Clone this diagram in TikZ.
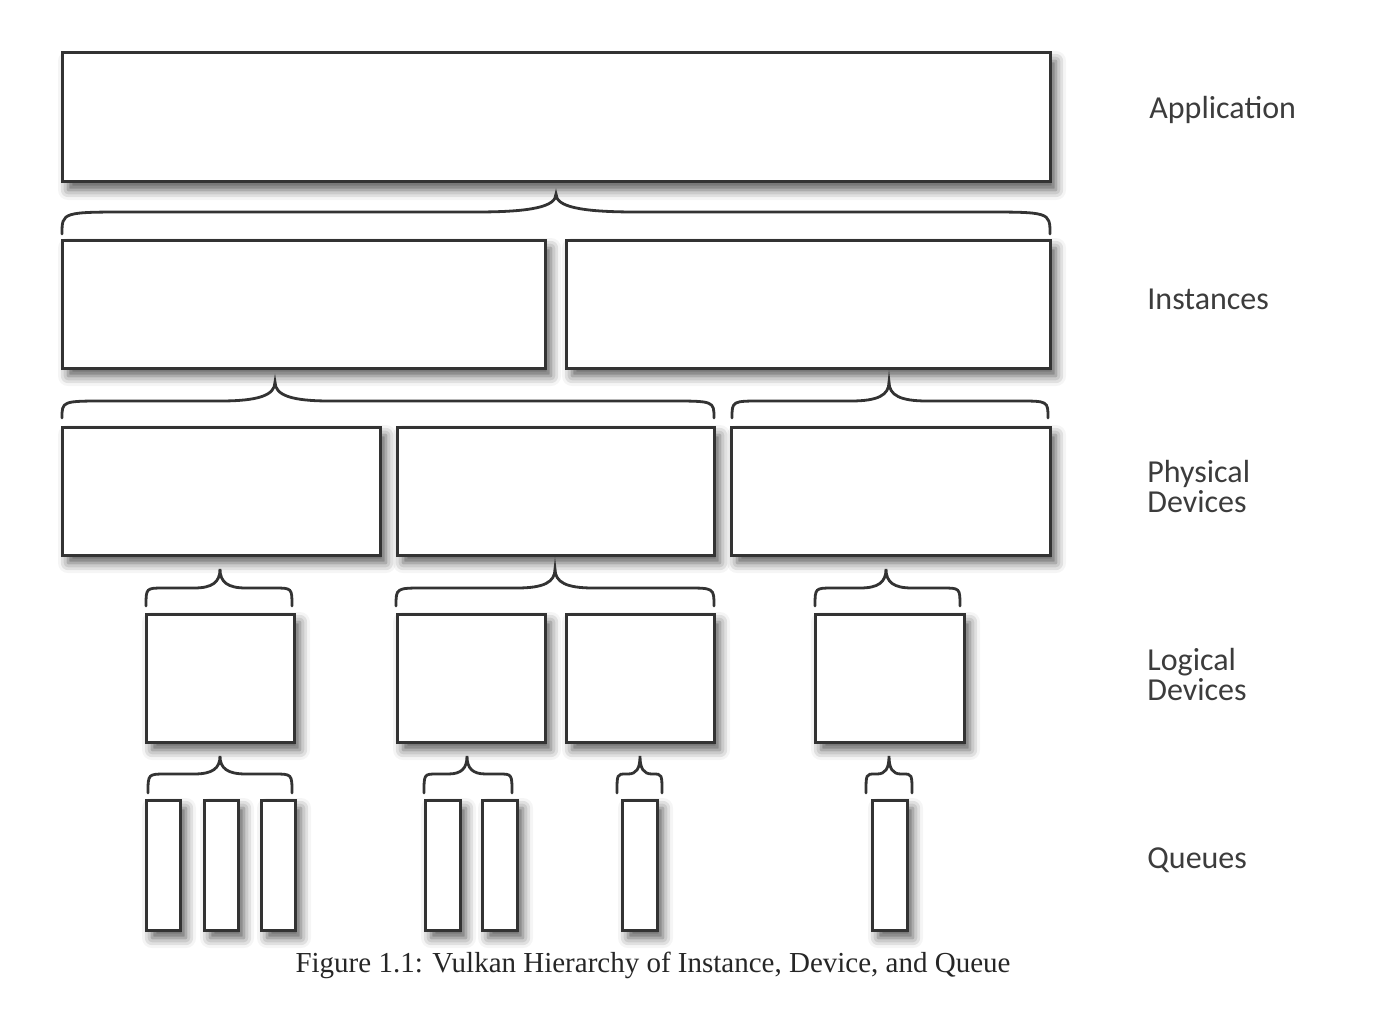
\documentclass[tikz,border=0pt]{standalone}
\usepackage{fontspec}
\setmainfont{Liberation Serif}
\newfontfamily\lblfont{Carlito}
\usetikzlibrary{shadows.blur}
\definecolor{lineC}{HTML}{333333}
\definecolor{textC}{HTML}{3C3C3C}
\tikzset{
  box/.style={draw=lineC, line width=1.5pt, fill=white, inner sep=0pt,
    blur shadow={shadow xshift=3pt, shadow yshift=-4pt, shadow blur radius=5pt, shadow opacity=65}},
  bracestyle/.style={draw=lineC, line width=1.4pt, line cap=round},
  lbl/.style={text=textC, font=\lblfont\fontsize{16}{15}\selectfont, align=left, anchor=west, inner sep=0pt},
}
% #1 x left, #2 x right, #3 x tip, #4 y tip, #5 y mid, #6 y bottom, #7 end radius, #8 tip radius
\newcommand\mybrace[8]{%
  \draw[bracestyle] (#1,#6) .. controls (#1,#5) .. ({#1+#7},#5)
    -- ({#3-#8},#5) .. controls ({#3-0.3*#8},#5) and (#3,{#5-0.3*(#5-#4)}) .. (#3,#4)
    .. controls (#3,{#5-0.3*(#5-#4)}) and ({#3+0.3*#8},#5) .. ({#3+#8},#5)
    -- ({#2-#7},#5) .. controls (#2,#5) .. (#2,#6);}
\newcommand\bx[5]{%
  \node[box, minimum width={(#4)*0.5pt}, minimum height={(#5)*0.5pt}] (#1) at (#2,#3) {};}
\begin{document}
\begin{tikzpicture}[x=0.5pt, y=-0.5pt]
\useasboundingbox (0,0) rectangle (1390,1032);
% Application
\bx{app}{556}{117.5}{988}{129}
\mybrace{62}{1050}{556}{194}{212}{234}{70}{80}
% Instances
\bx{inst1}{303.5}{304}{483}{128}
\bx{inst2}{808}{304}{484}{128}
\mybrace{62}{714}{275}{382}{401}{418}{45}{55}
\mybrace{732}{1048}{889}{382}{401}{418}{30}{38}
% Physical devices
\bx{phys1}{221}{491}{318}{128}
\bx{phys2}{555.5}{491}{317}{128}
\bx{phys3}{890.5}{491}{319}{128}
\mybrace{146}{292}{220}{569}{588}{606}{18}{26}
\mybrace{396}{714}{555}{569}{588}{606}{28}{38}
\mybrace{815}{960}{886}{569}{588}{606}{18}{26}
% Logical devices
\bx{log1}{220}{678}{148}{128}
\bx{log2}{471}{678}{148}{128}
\bx{log3}{640}{678}{148}{128}
\bx{log4}{889.5}{678}{149}{128}
\mybrace{148}{292}{220}{756}{774}{793}{18}{26}
\mybrace{424}{512}{467}{756}{774}{793}{13}{19}
\mybrace{617}{662}{640}{756}{774}{793}{9}{12}
\mybrace{866}{912}{889}{756}{774}{793}{9}{12}
% Queues
\bx{q1}{163}{865}{34}{130}
\bx{q2}{221}{865}{34}{130}
\bx{q3}{278}{865}{34}{130}
\bx{q4}{442.5}{865}{35}{130}
\bx{q5}{499.5}{865}{35}{130}
\bx{q6}{639.5}{865}{35}{130}
\bx{q7}{889.5}{865}{35}{130}
% Labels
\node[lbl] (lapp) at (1149,110) {Application};
\node[lbl] (linst) at (1147,299) {Instances};
\node[lbl] (lphys) at (1147,487) {Physical\\Devices};
\node[lbl] (llog) at (1147,674) {Logical\\Devices};
\node[lbl] (lq) at (1147,860) {Queues};
% Caption
\node[font=\fontsize{14.5}{17}\selectfont, inner sep=0pt, anchor=base, text=black!85] (cap) at (653,972) {Figure 1.1: Vulkan Hierarchy of Instance, Device, and Queue};
\end{tikzpicture}
\end{document}
